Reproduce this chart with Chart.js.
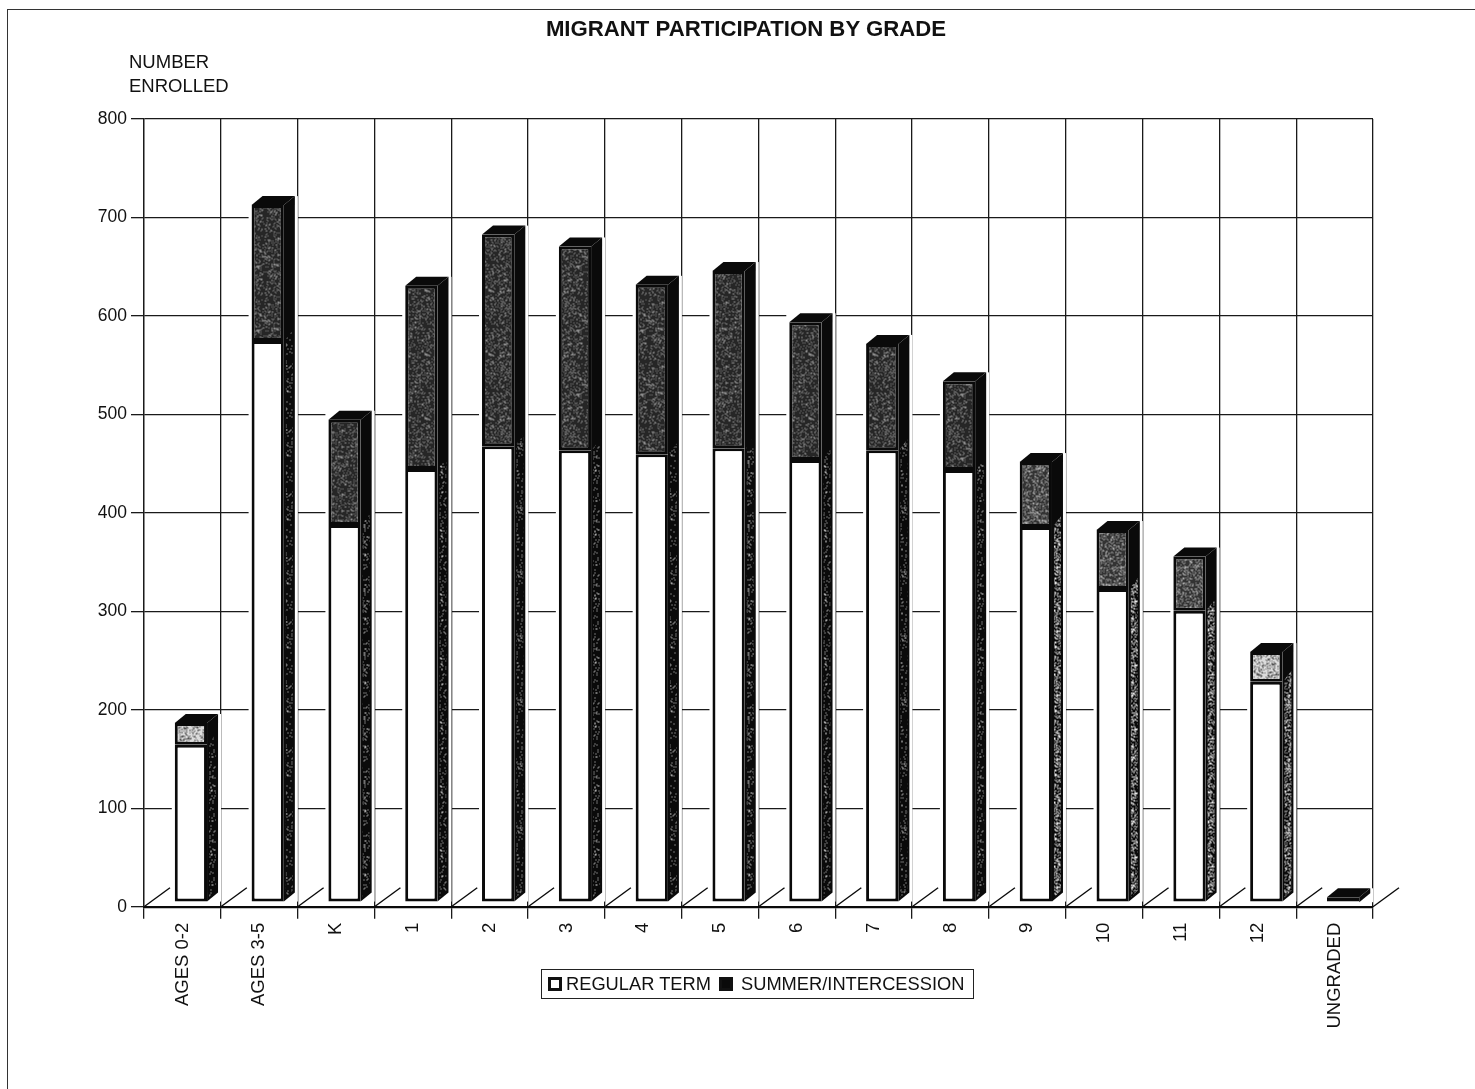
<!DOCTYPE html>
<html lang="en">
<head>
  <meta charset="UTF-8">
  <title>Migrant Participation by Grade</title>
  <script src="https://cdn.jsdelivr.net/npm/chart.js"></script>
  <style>
    html, body { margin: 0; padding: 0; background: #fff; }
    body {
      position: relative;
      width: 1475px;
      height: 1089px;
      overflow: hidden;
      font-family: "Liberation Sans", Arial, sans-serif;
      color: #111;
    }
    #chart { position: absolute; left: 0; top: 0; }
    #frame {
      position: absolute;
      left: 7px;
      top: 9px;
      width: 1468px;
      height: 1080px;
      border-left: 1px solid #333;
      border-top: 1.5px solid #333;
      box-sizing: border-box;
    }
    #title {
      position: absolute;
      left: 346px;
      width: 800px;
      top: 16px;
      text-align: center;
      font-size: 22.2px;
      font-weight: bold;
    }
    #yCaption {
      position: absolute;
      left: 129px;
      top: 50px;
      font-size: 18.5px;
      line-height: 24px;
    }
    #legend {
      position: absolute;
      left: 541px;
      top: 969px;
      width: 433px;
      height: 30px;
      box-sizing: border-box;
      border: 1.5px solid #222;
      background: #fff;
      font-size: 18.3px;
    }
    #legend span { position: absolute; top: 3px; white-space: nowrap; }
    #legend i {
      position: absolute;
      top: 7px;
      width: 14px;
      height: 14px;
      box-sizing: border-box;
      border: 3px solid #111;
    }
  </style>
</head>
<body>
  <canvas id="chart" width="1475" height="1089"></canvas>
  <div id="frame"></div>
  <div id="title">MIGRANT PARTICIPATION BY GRADE</div>
  <div id="yCaption">NUMBER<br>ENROLLED</div>
  <div id="legend"></div>

  <script>
    const grades = ["AGES 0-2", "AGES 3-5", "K", "1", "2", "3", "4", "5", "6", "7", "8", "9", "10", "11", "12", "UNGRADED"];
    const regularTerm = [160, 570, 383, 440, 463, 459, 455, 461, 449, 459, 439, 381, 318, 296, 224, 0];
    const summerTerm = [22, 138, 107, 186, 215, 207, 172, 180, 140, 108, 90, 66, 60, 55, 30, 5];
    const yTicks = [0, 100, 200, 300, 400, 500, 600, 700, 800];

    const INK = "#0a0a0a";
    const DEPTH_X = 11;
    const DEPTH_Y = 9;
    // the bars stand in front of the back wall
    const SHIFT_X = 8.5;
    const SHIFT_Y = -4.5;

    // fixed grain so the fills look like the scanned halftone
    function grain(i, j) {
      const s = Math.sin(i * 12.9898 + j * 78.233) * 43758.5453;
      return s - Math.floor(s);
    }

    function makeTile(base, speck, density) {
      const c = document.createElement("canvas");
      c.width = 64;
      c.height = 64;
      const g = c.getContext("2d");
      g.fillStyle = base;
      g.fillRect(0, 0, 64, 64);
      g.fillStyle = speck;
      for (let i = 0; i < 64; i++) {
        for (let j = 0; j < 64; j++) {
          if (grain(i, j) < density) g.fillRect(i, j, 1, 1);
        }
      }
      return g.createPattern(c, "repeat");
    }

    const darkFill = makeTile("#262626", "#8c8c8c", 0.22);
    const midFill = makeTile("#333333", "#a8a8a8", 0.3);
    const lightFill = makeTile("#dcdcdc", "#555555", 0.3);
    const sideSparse = makeTile("#0a0a0a", "#d8d8d8", 0.1);
    const sideDense = makeTile("#0a0a0a", "#e4e4e4", 0.36);

    function summerFill(ctx) {
      const v = summerTerm[ctx.dataIndex];
      if (v < 10) return INK;
      if (v < 40) return lightFill;
      if (v < 70) return midFill;
      return darkFill;
    }

    function poly(ctx, pts, fill) {
      ctx.fillStyle = fill;
      ctx.beginPath();
      pts.forEach((p, i) => (i ? ctx.lineTo(p[0], p[1]) : ctx.moveTo(p[0], p[1])));
      ctx.closePath();
      ctx.fill();
    }

    const bars3d = {
      id: "bars3d",
      beforeDatasetsDraw(chart) {
        const ctx = chart.ctx;
        const low = chart.getDatasetMeta(0).data;
        const high = chart.getDatasetMeta(1).data;
        ctx.save();
        ctx.translate(SHIFT_X, SHIFT_Y);
        high.forEach((bar, i) => {
          const left = bar.x - bar.width / 2;
          const right = bar.x + bar.width / 2;
          const top = bar.y;
          const base = low[i].base;
          const split = low[i].y;
          // white gap the grid lines leave round each bar
          ctx.fillStyle = "#fff";
          ctx.fillRect(left - 3, top - DEPTH_Y, right - left + DEPTH_X + 6, base - top + DEPTH_Y);
          poly(ctx, [[left, top], [left + DEPTH_X, top - DEPTH_Y], [right + DEPTH_X, top - DEPTH_Y], [right, top]], INK);
          poly(ctx, [[right, top], [right + DEPTH_X, top - DEPTH_Y], [right + DEPTH_X, base - DEPTH_Y], [right, base]], INK);
          if (regularTerm[i] > 0) {
            poly(ctx, [
              [right + 2, split - 2],
              [right + DEPTH_X - 2, split - 2 - DEPTH_Y],
              [right + DEPTH_X - 2, base - DEPTH_Y - 2],
              [right + 2, base - 4]
            ], i >= 11 ? sideDense : sideSparse);
          }
        });
      },
      afterDatasetsDraw(chart) {
        chart.ctx.restore();
      },
      afterDraw(chart) {
        // floor lines going back from every category tick
        const ctx = chart.ctx;
        const x = chart.scales.x;
        const y0 = chart.scales.y.getPixelForValue(0);
        const step = x.getPixelForValue(1) - x.getPixelForValue(0);
        ctx.save();
        ctx.strokeStyle = INK;
        ctx.lineWidth = 1.4;
        for (let i = 0; i <= grades.length; i++) {
          const px = x.getPixelForValue(0) - step / 2 + i * step;
          ctx.beginPath();
          ctx.moveTo(px, y0);
          ctx.lineTo(px + 26, y0 - 19);
          ctx.stroke();
        }
        ctx.restore();
      }
    };

    const chart = new Chart(document.getElementById("chart"), {
      type: "bar",
      data: {
        labels: grades,
        datasets: [
          { label: "REGULAR TERM", data: regularTerm, backgroundColor: "#ffffff", borderColor: INK, borderWidth: 3, borderSkipped: false },
          { label: "SUMMER/INTERCESSION", data: summerTerm, backgroundColor: summerFill, borderColor: INK, borderWidth: 3, borderSkipped: false }
        ]
      },
      options: {
        responsive: false,
        animation: false,
        devicePixelRatio: 1,
        datasets: { bar: { categoryPercentage: 1, barPercentage: 0.42 } },
        layout: { padding: { left: 0, right: 102, top: 119, bottom: 0 } },
        plugins: { legend: { display: false }, title: { display: false }, tooltip: { enabled: false } },
        scales: {
          x: {
            stacked: true,
            afterFit(scale) { scale.height = 182.3; },
            grid: { color: "#1a1a1a", lineWidth: 1.3, tickLength: 12, offset: true },
            border: { color: INK, width: 2.2 },
            ticks: {
              autoSkip: false,
              minRotation: 90,
              maxRotation: 90,
              padding: 4,
              color: "#111",
              font: { family: "'Liberation Sans', Arial, sans-serif", size: 18.5 }
            }
          },
          y: {
            stacked: true,
            min: 0,
            max: 800,
            afterFit(scale) { scale.width = 144; },
            afterBuildTicks(scale) { scale.ticks = yTicks.map(v => ({ value: v })); },
            grid: { color: "#1a1a1a", lineWidth: 1.3, tickLength: 13 },
            border: { color: "#1a1a1a", width: 1.3 },
            ticks: {
              padding: 4,
              color: "#111",
              font: { family: "'Liberation Sans', Arial, sans-serif", size: 17.5 }
            }
          }
        }
      },
      plugins: [bars3d]
    });

    // legend box sits beside the rotated labels, so it is plain html
    const legendBox = document.getElementById("legend");
    const legendSlots = [{ mark: 6, text: 24 }, { mark: 177, text: 199 }];
    chart.data.datasets.forEach((ds, i) => {
      const mark = document.createElement("i");
      mark.style.left = legendSlots[i].mark + "px";
      mark.style.background = i === 0 ? "#fff" : INK;
      const text = document.createElement("span");
      text.style.left = legendSlots[i].text + "px";
      text.textContent = ds.label;
      legendBox.append(mark, text);
    });
  </script>
</body>
</html>
